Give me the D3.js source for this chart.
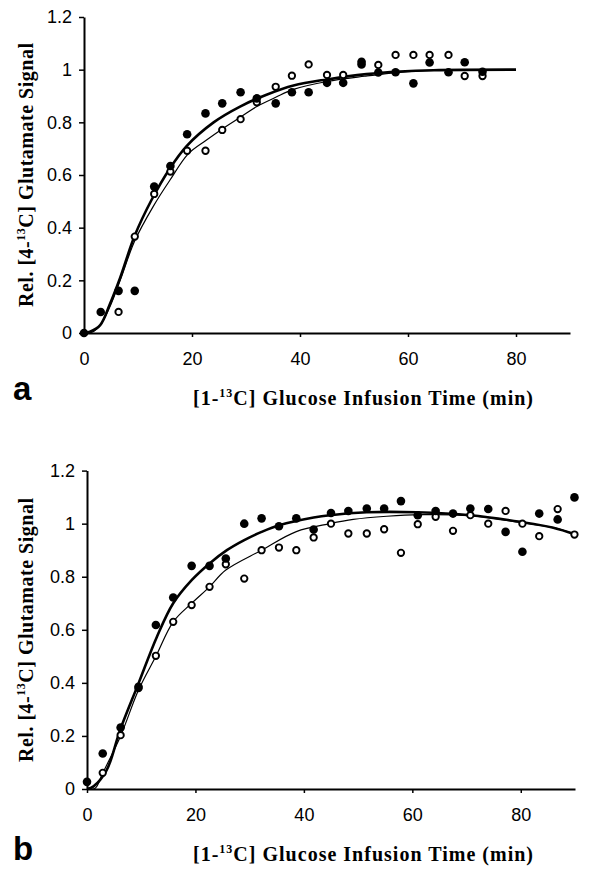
<!DOCTYPE html>
<html>
<head>
<meta charset="utf-8">
<script src="https://cdn.jsdelivr.net/npm/d3@7"></script>
<style>
  body { margin: 0; background: #fff; }
  svg { display: block; }
  .tick text { font-family: 'Liberation Sans', Arial, sans-serif; font-size: 18px; fill: #000; }
  .domain { stroke: #000; stroke-width: 2; }
  .tick line { stroke: #000; stroke-width: 1.5; }
</style>
</head>
<body>
<svg id="chart" width="590" height="869"></svg>
<script>
// tick labels
var yTicks = [0, 0.2, 0.4, 0.6, 0.8, 1, 1.2]
var xTicks = [0, 20, 40, 60, 80]

// panel a - filled circles (time min, rel. signal)
var aFilled = [[0, 0], [3.1, 0.08], [6.4, 0.16], [9.4, 0.16], [13, 0.556], [16, 0.634], [19.1, 0.755],
  [22.5, 0.834], [25.6, 0.872], [29, 0.914], [32, 0.891], [35.5, 0.872], [38.5, 0.914], [41.6, 0.914],
  [45, 0.95], [48, 0.95], [51.4, 1.03], [51.4, 1.02], [54.5, 0.989], [57.7, 0.99], [61, 0.948],
  [64, 1.027], [67.5, 0.99], [70.5, 1.028], [73.8, 0.992]]
// panel a - open circles
var aOpen = [[6.4, 0.08], [9.4, 0.366], [13, 0.528], [16, 0.613], [19.1, 0.692], [22.5, 0.692],
  [25.6, 0.771], [29, 0.812], [32, 0.876], [35.5, 0.935], [38.5, 0.977], [41.6, 1.02], [45, 0.98],
  [48, 0.98], [54.5, 1.018], [57.7, 1.056], [61, 1.056], [64, 1.056], [67.5, 1.056], [70.5, 0.976],
  [73.8, 0.976]]
// panel a - fitted curves
var aFitFilled = [[0, 0], [1.1, 0.005], [3, 0.03], [4.8, 0.11], [6.7, 0.21], [9.4, 0.37], [12.5, 0.505],
  [15.9, 0.625], [19, 0.71], [24, 0.8], [28.9, 0.86], [33.8, 0.905], [38.8, 0.94], [45, 0.963],
  [52.3, 0.983], [58.5, 0.993], [64.7, 0.998], [80, 1.0]]
var aFitOpen = [[0, 0], [1.5, 0.003], [3, 0.03], [4.8, 0.1], [6.7, 0.2], [9.4, 0.35], [12.8, 0.48],
  [15.9, 0.58], [19.3, 0.68], [22.5, 0.73], [25.6, 0.775], [29, 0.82], [32, 0.86], [35.5, 0.895],
  [38.8, 0.925], [45, 0.955], [52, 0.975], [58.5, 0.99], [65, 0.997], [80, 1.0]]

// panel b - filled circles
var bFilled = [[0, 0.027], [2.9, 0.134], [6.2, 0.232], [9.5, 0.385], [12.7, 0.618], [15.9, 0.722],
  [19.3, 0.841], [22.6, 0.841], [25.6, 0.869], [29, 1.0], [32.2, 1.02], [35.4, 0.99], [38.6, 1.02],
  [41.8, 0.978], [45, 1.04], [48.2, 1.048], [51.6, 1.057], [54.8, 1.057], [57.9, 1.085], [61, 1.032],
  [64.3, 1.048], [67.5, 1.038], [70.7, 1.057], [74, 1.055], [77.2, 0.969], [80.3, 0.894], [83.4, 1.038],
  [86.8, 1.016], [89.9, 1.099]]
// panel b - open circles
var bOpen = [[2.9, 0.061], [6.2, 0.203], [9.5, 0.38], [12.7, 0.502], [15.9, 0.63], [19.3, 0.693],
  [22.6, 0.762], [25.6, 0.847], [29, 0.793], [32.2, 0.9], [35.4, 0.91], [38.6, 0.9], [41.8, 0.948],
  [45, 1.0], [48.2, 0.963], [51.6, 0.963], [54.8, 0.979], [57.9, 0.89], [61, 0.998], [64.3, 1.026],
  [67.5, 0.973], [70.7, 1.032], [74, 1.0], [77.2, 1.048], [80.3, 1.0], [83.4, 0.953], [86.8, 1.055],
  [89.9, 0.959]]
var bFitFilled = [[0, 0], [1.2, 0.01], [3.6, 0.07], [6.1, 0.222], [9.5, 0.398], [12.9, 0.574],
  [15.9, 0.7], [19.3, 0.787], [22.6, 0.85], [25.8, 0.9], [29, 0.938], [32.2, 0.969], [35.6, 0.995],
  [41.8, 1.023], [44.8, 1.032], [51.6, 1.043], [60.8, 1.043], [70.7, 1.032], [79.9, 1.007], [86, 0.985],
  [90, 0.96]]
var bFitOpen = [[0, 0], [1.5, 0.003], [2.9, 0.06], [6.2, 0.2], [9.5, 0.373], [12.7, 0.5], [15.9, 0.63],
  [19.3, 0.7], [22.6, 0.762], [25.6, 0.825], [32.2, 0.9], [38.6, 0.97], [44.8, 1.0], [49.1, 1.016],
  [55.3, 1.028], [61.4, 1.034], [70.7, 1.03], [79.9, 1.005], [86, 0.985], [90, 0.96]]

var svg = d3.select('#chart')

function panel(opts) {
    var x = d3.scaleLinear().domain([0, 90]).range([opts.left, opts.right])
    var y = d3.scaleLinear().domain([0, 1.2]).range([opts.bottom, opts.top])
    var g = svg.append('g')

    g.append('g')
        .attr('transform', 'translate(0,' + opts.bottom + ')')
        .call(d3.axisBottom(x).tickValues(xTicks).tickFormat(String)
            .tickSize(4).tickSizeOuter(0).tickPadding(15))

    g.append('g')
        .attr('transform', 'translate(' + opts.left + ',0)')
        .call(d3.axisLeft(y).tickValues(yTicks).tickFormat(String)
            .tickSize(5).tickSizeOuter(0).tickPadding(7))

    var line = d3.line()
        .x(function(d) { return x(d[0]) })
        .y(function(d) { return y(d[1]) })
        .curve(d3.curveCatmullRom)

    g.append('path').datum(opts.fitOpen)
        .attr('d', line).attr('fill', 'none').attr('stroke', '#000').attr('stroke-width', 1.2)
    g.append('path').datum(opts.fitFilled)
        .attr('d', line).attr('fill', 'none').attr('stroke', '#000').attr('stroke-width', 2.6)

    g.selectAll('.open').data(opts.open).enter().append('circle')
        .attr('cx', function(d) { return x(d[0]) })
        .attr('cy', function(d) { return y(d[1]) })
        .attr('r', 3.2)
        .attr('fill', '#fff').attr('stroke', '#000').attr('stroke-width', 1.9)

    g.selectAll('.filled').data(opts.filled).enter().append('circle')
        .attr('cx', function(d) { return x(d[0]) })
        .attr('cy', function(d) { return y(d[1]) })
        .attr('r', 4.3)
        .attr('fill', '#000')

    // y label
    var yl = g.append('text')
        .attr('transform', 'translate(33,' + opts.yLabelMid + ') rotate(-90)')
        .attr('text-anchor', 'middle')
        .attr('font-family', "'Liberation Serif', 'Times New Roman', serif")
        .attr('font-weight', 'bold')
        .attr('font-size', 20)
        .attr('textLength', 264)
        .attr('lengthAdjust', 'spacing')
    yl.append('tspan').text('Rel. [4-')
    yl.append('tspan').attr('font-size', 12).attr('dy', -8).text('13')
    yl.append('tspan').attr('dy', 8).text('C] Glutamate Signal')

    // x label
    var xl = g.append('text')
        .attr('x', 193).attr('y', opts.xLabelY)
        .attr('font-family', "'Liberation Serif', 'Times New Roman', serif")
        .attr('font-weight', 'bold')
        .attr('font-size', 20)
        .attr('textLength', 340)
        .attr('lengthAdjust', 'spacing')
    xl.append('tspan').text('[1-')
    xl.append('tspan').attr('font-size', 12).attr('dy', -8).text('13')
    xl.append('tspan').attr('dy', 8).text('C] Glucose Infusion Time (min)')

    // panel letter
    g.append('text')
        .attr('x', 13).attr('y', opts.letterY)
        .attr('font-family', "'Liberation Sans', Arial, sans-serif")
        .attr('font-weight', 'bold')
        .attr('font-size', 33)
        .text(opts.letter)
}

panel({ left: 84, right: 570, top: 17, bottom: 333, filled: aFilled, open: aOpen,
    fitFilled: aFitFilled, fitOpen: aFitOpen, yLabelMid: 175, xLabelY: 405, letterY: 400, letter: 'a' })
panel({ left: 87, right: 575, top: 470.6, bottom: 789, filled: bFilled, open: bOpen,
    fitFilled: bFitFilled, fitOpen: bFitOpen, yLabelMid: 630, xLabelY: 861, letterY: 860, letter: 'b' })
</script>
</body>
</html>
